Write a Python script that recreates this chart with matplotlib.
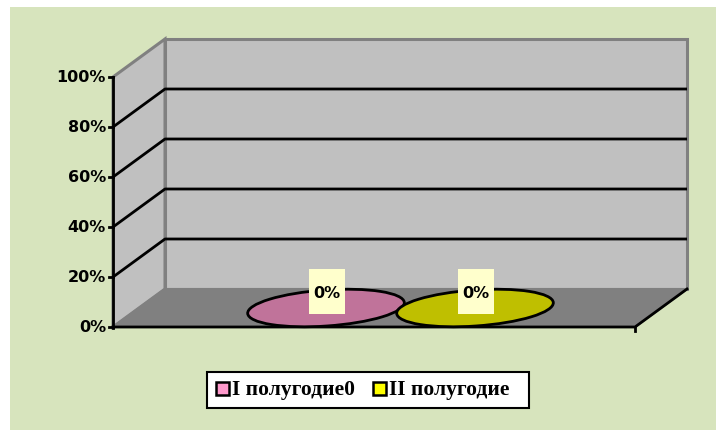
import matplotlib
matplotlib.use("Agg")
import matplotlib.pyplot as plt
from matplotlib.patches import Polygon, Ellipse, Rectangle

# Data
categories = ["I полугодие0", "II полугодие"]
values = [0.0, 0.0]
value_labels = ["0%", "0%"]
y_ticks = [0.0, 0.2, 0.4, 0.6, 0.8, 1.0]
y_tick_labels = ["0%", "20%", "40%", "60%", "80%", "100%"]

W, H = 716, 430
fig = plt.figure(figsize=(W / 100, H / 100), dpi=100)
fig.patch.set_facecolor("white")
ax = fig.add_axes([0, 0, 1, 1])
ax.set_xlim(0, W)
ax.set_ylim(H, 0)
ax.axis("off")

# chart area background
ax.add_patch(Rectangle((10, 7), W - 10, H - 7, facecolor="#D7E4BD", edgecolor="none", zorder=0))

# 3D box geometry (pixel space)
x0, x1 = 113, 635          # front floor edge
y_base, y_top = 327, 77    # 0% and 100% on the front axis
dx, dy = 52, -38           # depth offset
scale = y_base - y_top


def yv(v):
    return y_base - v * scale


# back wall
ax.add_patch(Polygon([(x0 + dx, y_top + dy), (x1 + dx, y_top + dy),
                      (x1 + dx, y_base + dy), (x0 + dx, y_base + dy)],
                     closed=True, facecolor="#C0C0C0", edgecolor="#808080", lw=2.2, zorder=1))
# side wall
ax.add_patch(Polygon([(x0, y_top), (x0 + dx, y_top + dy), (x0 + dx, y_base + dy), (x0, y_base)],
                     closed=True, facecolor="#C0C0C0", edgecolor="#808080", lw=2.2, zorder=1))
# floor
ax.add_patch(Polygon([(x0, y_base), (x0 + dx, y_base + dy), (x1 + dx, y_base + dy), (x1, y_base)],
                     closed=True, facecolor="#808080", edgecolor="#808080", lw=1.5, zorder=1))

# gridlines on side and back walls
for t in y_ticks[1:-1]:
    y = yv(t)
    ax.plot([x0, x0 + dx, x1 + dx], [y, y + dy, y + dy], color="black", lw=2, zorder=2,
            solid_capstyle="butt")

# floor front and right edges
ax.plot([x0, x1, x1 + dx], [y_base, y_base, y_base + dy], color="black", lw=2, zorder=2)
ax.plot([x1, x1], [y_base, y_base + 4], color="black", lw=2, zorder=2)

# vertical axis with ticks
ax.plot([x0, x0], [y_base + 1, y_top], color="black", lw=2, zorder=3)
for t, lab in zip(y_ticks, y_tick_labels):
    y = yv(t)
    ax.plot([x0 - 4, x0], [y, y], color="black", lw=2, zorder=3)
    ax.text(x0 - 7, y + 1, lab, ha="right", va="center", fontsize=11.5, fontweight="bold",
            family="DejaVu Sans", color="black", zorder=3)

# cylinders
colors = ["#C0739A", "#BFBF00"]
centers_x = [326, 475]
depth_y = 308
ew, eh = 157, 36
for cx, v, col, lab in zip(centers_x, values, colors, value_labels):
    h = v * scale
    yb = depth_y
    yt = depth_y - h
    if h > 0:
        ax.add_patch(Ellipse((cx, yb), ew, eh, angle=-4, facecolor=col, edgecolor="black", lw=2, zorder=4))
        ax.add_patch(Rectangle((cx - ew / 2, yt), ew, h, facecolor=col, edgecolor="none", zorder=4))
    ax.add_patch(Ellipse((cx, yt), ew, eh, angle=-4, facecolor=col, edgecolor="black", lw=2, zorder=5))
    bx, by = cx + 1, yt - 16
    ax.add_patch(Rectangle((bx - 18, by - 23), 36, 45, facecolor="#FFFFCC", edgecolor="none", zorder=6))
    ax.text(bx, by + 1, lab, ha="center", va="center", fontsize=11.5, fontweight="bold",
            family="DejaVu Sans", color="black", zorder=7)

# legend
ax.add_patch(Rectangle((207, 372), 322, 36, facecolor="white", edgecolor="black", lw=1.5, zorder=5))
legend_colors = ["#FF99CC", "#FFFF00"]
lx = [216, 373]
for x, col, name in zip(lx, legend_colors, categories):
    ax.add_patch(Rectangle((x, 382), 13, 13, facecolor=col, edgecolor="black", lw=1.8, zorder=6))
    ax.text(x + 16, 389.5, name, ha="left", va="center", fontsize=15.5, fontweight="bold",
            family="Liberation Serif", color="black", zorder=6)

fig.savefig("out.png", dpi=100)
